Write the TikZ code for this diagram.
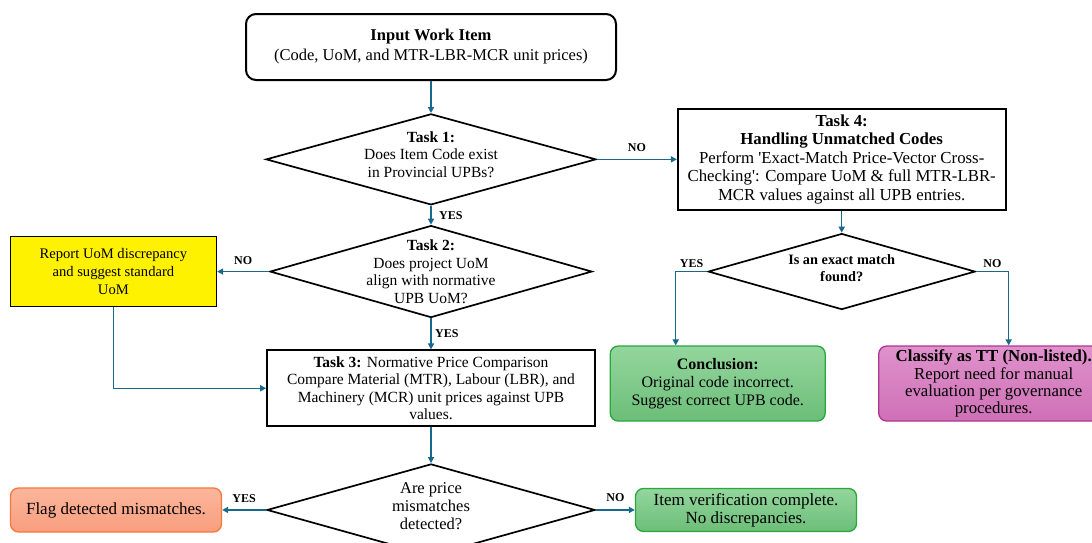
\documentclass[tikz,border=0pt]{standalone}
\usepackage{fontspec}
\setmainfont{Liberation Serif}
\usepackage{tikz}
\usetikzlibrary{shapes,arrows.meta,positioning}

\definecolor{flowblue}{RGB}{22,104,140}
\definecolor{okgreen}{RGB}{40,168,60}
\definecolor{okgreenA}{RGB}{148,214,158}
\definecolor{okgreenB}{RGB}{108,190,120}
\definecolor{flagorange}{RGB}{243,122,62}
\definecolor{flagA}{RGB}{252,182,156}
\definecolor{flagB}{RGB}{248,158,126}
\definecolor{ttpurple}{RGB}{176,52,150}
\definecolor{ttA}{RGB}{224,146,204}
\definecolor{ttB}{RGB}{206,112,182}

\begin{document}
\begin{tikzpicture}[
    x=1pt, y=1pt,
    font=\fontsize{15.5}{17.5}\selectfont,
    box/.style={rectangle, draw, line width=1.7pt, align=center, inner sep=2pt},
    startbox/.style={box, rounded corners=10pt, line width=2pt},
    decision/.style={diamond, draw, line width=1.7pt, inner sep=0pt},
    dtext/.style={align=center},
    endbox/.style={box, rounded corners=8pt, line width=1.3pt},
    okbox/.style={endbox, draw=okgreen, top color=okgreenA, bottom color=okgreenB},
    flagbox/.style={endbox, draw=flagorange, top color=flagA, bottom color=flagB},
    ttbox/.style={endbox, draw=ttpurple, top color=ttA, bottom color=ttB},
    uombox/.style={box, line width=1.5pt, fill=yellow},
    arrow/.style={-{Triangle[length=6pt,width=6pt]}, line width=1.5pt, draw=flowblue},
    answer/.style={font=\fontsize{12}{13}\selectfont\bfseries, text=black}
]
    \useasboundingbox (0,0) rectangle (1092,-542);

    \node[startbox, minimum width=370pt, minimum height=66pt, font=\fontsize{16.5}{20}\selectfont] (input) at (431,-47)
        {\textbf{Input Work Item}\\(Code, UoM, and MTR-LBR-MCR unit prices)};
    \node[decision, below=32pt of input, minimum width=330pt, minimum height=91pt,
        label={[dtext, yshift=5pt]center:{\textbf{Task 1:}\\Does Item Code exist\\in Provincial UPBs?}}] (task1) {};
    \node[box, right=80pt of task1, minimum width=328pt, minimum height=101pt, font=\fontsize{16.8}{18.5}\selectfont] (task4)
        {\textbf{Task 4:}\\\textbf{Handling Unmatched Codes}\\Perform \textquotesingle Exact-Match Price-Vector Cross-\\Checking\textquotesingle: Compare UoM \& full MTR-LBR-\\MCR values against all UPB entries.};
    \node[decision, below=19pt of task1, minimum width=322pt, minimum height=92pt,
        label={[dtext]center:{\textbf{Task 2:}\\Does project UoM\\align with normative\\UPB UoM?}}] (task2) {};
    \node[uombox, left=52pt of task2, minimum width=206pt, minimum height=70pt, font=\fontsize{14.6}{18}\selectfont] (uom)
        {Report UoM discrepancy\\and suggest standard\\UoM};
    \node[box, below=31pt of task2, minimum width=328pt, minimum height=76pt] (task3)
        {\textbf{Task 3:} Normative Price Comparison\\Compare Material (MTR), Labour (LBR), and\\Machinery (MCR) unit prices against UPB\\values.};
    \node[decision, below=36pt of task3, minimum width=328pt, minimum height=92pt,
        label={[dtext, yshift=4pt, font=\fontsize{16.5}{18}\selectfont]center:{Are price\\mismatches\\detected?}}] (check) {};
    \node[flagbox, left=44pt of check, minimum width=211pt, minimum height=44pt, font=\fontsize{17}{18}\selectfont] (flag)
        {Flag detected mismatches.};
    \node[okbox, right=39pt of check, minimum width=221pt, minimum height=43pt, font=\fontsize{17}{18}\selectfont] (done)
        {Item verification complete.\\No discrepancies.};
    \node[decision, below=22pt of task4, minimum width=267pt, minimum height=76pt,
        label={[dtext, yshift=3pt, font=\fontsize{14.3}{17}\selectfont\bfseries]center:{Is an exact match\\found?}}] (match) {};
    \node[okbox, below=35pt of match, xshift=-124pt, minimum width=215pt, minimum height=75pt, font=\fontsize{16}{18}\selectfont] (concl)
        {\textbf{Conclusion:}\\Original code incorrect.\\Suggest correct UPB code.};
    \node[ttbox, below=35pt of match, xshift=152pt, minimum width=230pt, minimum height=75pt, font=\fontsize{16.8}{17.2}\selectfont] (tt)
        {\textbf{Classify as TT (Non-listed).}\\Report need for manual\\evaluation per governance\\procedures.};

    \draw[arrow] (input) -- (task1);
    \draw[arrow] (task1) -- node[answer, above=4pt] {NO} (task4);
    \draw[arrow] (task1) -- node[answer, right, xshift=4pt] {YES} (task2);
    \draw[arrow] (task2) -- node[answer, above=3pt] {NO} (uom);
    \draw[arrow] (task2) -- node[answer, right] {YES} (task3);
    \draw[arrow] (uom) |- (task3);
    \draw[arrow] (task3) -- (check);
    \draw[arrow] (check) -- node[answer, above=3pt] {YES} (flag);
    \draw[arrow] (check) -- node[answer, above=4pt] {NO} (done);
    \draw[arrow] (task4) -- (match);
    \draw[arrow] (match.west) -| node[answer, above, pos=0.25] {YES} ([xshift=-42pt]concl.north);
    \draw[arrow] (match.east) -| node[answer, above, pos=0.25] {NO} ([xshift=15pt]tt.north);
\end{tikzpicture}
\end{document}
